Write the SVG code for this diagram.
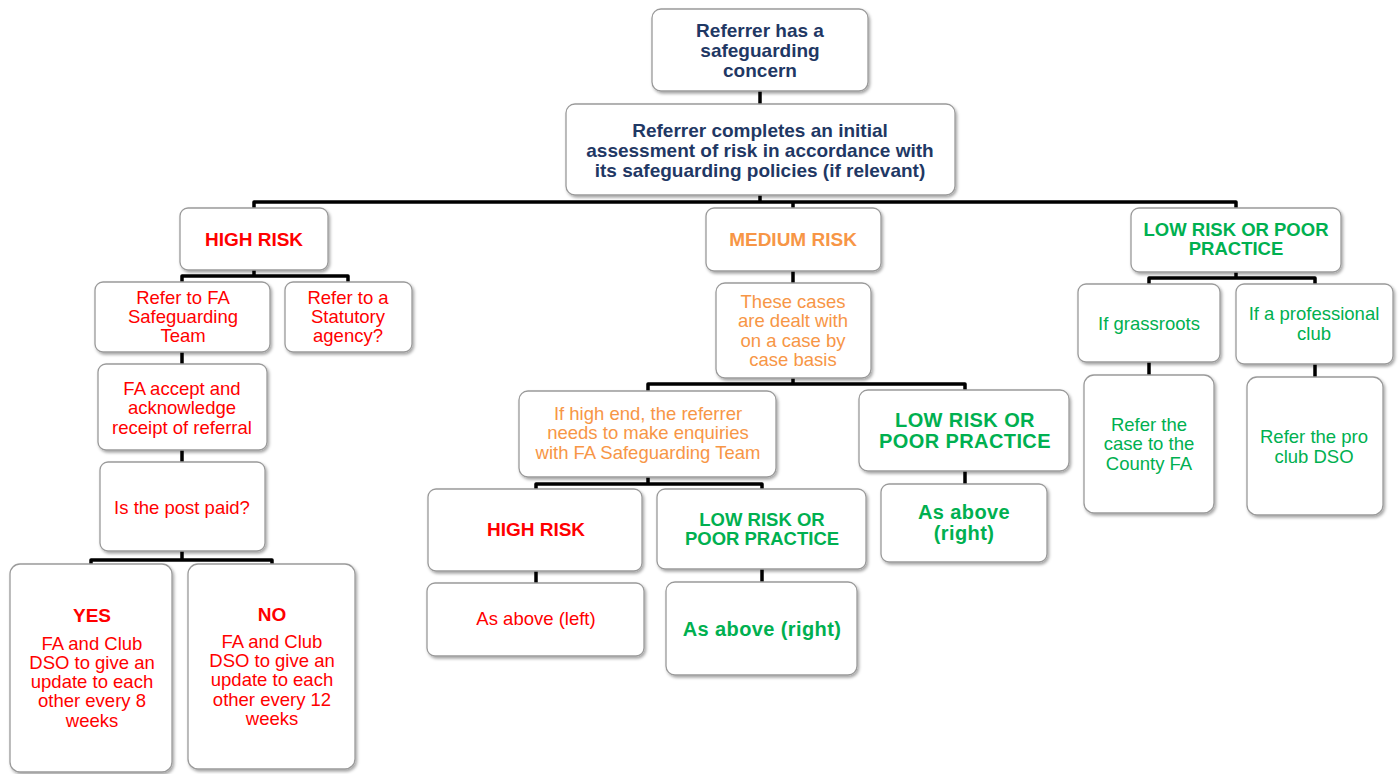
<svg xmlns="http://www.w3.org/2000/svg" width="1399" height="774" viewBox="0 0 1399 774">
<defs>
<filter id="sh" x="-10%" y="-10%" width="125%" height="130%">
<feDropShadow dx="1.5" dy="2" stdDeviation="1.5" flood-color="#000" flood-opacity="0.35"/>
</filter>
<style>
.box{fill:#fff;stroke:#9a9a9a;stroke-width:1.3;filter:url(#sh)}
.con{fill:none;stroke:#000;stroke-width:3.5;stroke-linejoin:round;stroke-linecap:butt}
text{font-family:"Liberation Sans",Arial,sans-serif;text-anchor:middle;font-size:18.5px}
.nv{fill:#1f3864;font-weight:bold;font-size:19px}
.rd{fill:#ff0000}
.rb{fill:#ff0000;font-weight:bold;font-size:19px}
.or{fill:#f79646}
.ob{fill:#f79646;font-weight:bold;font-size:19px}
.gr{fill:#00b050}
.gb{fill:#00b050;font-weight:bold;font-size:18.5px}
.gB{fill:#00b050;font-weight:bold;font-size:20px;letter-spacing:0.4px}
</style>
</defs>
<rect width="1399" height="774" fill="#fff"/>
<g id="connectors">
<path class="con" d="M760,91 V104"/>
<path class="con" d="M760,195 V202"/>
<path class="con" d="M254,208 V202 H1236 V208"/>
<path class="con" d="M793,202 V208"/>
<path class="con" d="M254,270 V276"/>
<path class="con" d="M182,282 V276 H348 V282"/>
<path class="con" d="M182,352 V364"/>
<path class="con" d="M182,450 V462"/>
<path class="con" d="M182,551 V560"/>
<path class="con" d="M91,564 V560 H272 V564"/>
<path class="con" d="M793,271 V283"/>
<path class="con" d="M793,378 V384"/>
<path class="con" d="M648,391 V384 H965 V390"/>
<path class="con" d="M648,477 V484"/>
<path class="con" d="M536,489 V484 H762 V489"/>
<path class="con" d="M965,471 V484"/>
<path class="con" d="M536,571 V583"/>
<path class="con" d="M762,569 V582"/>
<path class="con" d="M1236,272 V278"/>
<path class="con" d="M1149,284 V278 H1315 V284"/>
<path class="con" d="M1149,362 V375"/>
<path class="con" d="M1315,364 V377"/>
</g>
<g id="n1"><rect class="box" x="652" y="9" width="216" height="82" rx="9"/>
<text class="nv" x="760" y="36.5">Referrer has a</text>
<text class="nv" x="760" y="56.5">safeguarding</text>
<text class="nv" x="760" y="76.5">concern</text></g>
<g id="n2"><rect class="box" x="566" y="104" width="389" height="91" rx="9"/>
<text class="nv" x="760" y="136.5">Referrer completes an initial</text>
<text class="nv" x="760" y="156.5">assessment of risk in accordance with</text>
<text class="nv" x="760" y="176.5">its safeguarding policies (if relevant)</text></g>
<g id="n3"><rect class="box" x="180" y="208" width="148" height="62" rx="8"/>
<text class="rb" x="254" y="245.5">HIGH RISK</text></g>
<g id="n4"><rect class="box" x="706" y="208" width="175" height="63" rx="8"/>
<text class="ob" x="793" y="245.5">MEDIUM RISK</text></g>
<g id="n5"><rect class="box" x="1131" y="208" width="210" height="64" rx="8"/>
<text class="gb" x="1236" y="235.5">LOW RISK OR POOR</text>
<text class="gb" x="1236" y="254.5">PRACTICE</text></g>
<g id="n6"><rect class="box" x="95" y="282" width="175" height="70" rx="8"/>
<text class="rd" x="183" y="303.5">Refer to FA</text>
<text class="rd" x="183" y="323">Safeguarding</text>
<text class="rd" x="183" y="342">Team</text></g>
<g id="n7"><rect class="box" x="285" y="282" width="127" height="70" rx="8"/>
<text class="rd" x="348" y="303.5">Refer to a</text>
<text class="rd" x="348" y="323">Statutory</text>
<text class="rd" x="348" y="342">agency?</text></g>
<g id="n8"><rect class="box" x="98" y="364" width="169" height="86" rx="8"/>
<text class="rd" x="182" y="394.5">FA accept and</text>
<text class="rd" x="182" y="414">acknowledge</text>
<text class="rd" x="182" y="433.5">receipt of referral</text></g>
<g id="n9"><rect class="box" x="100" y="462" width="165" height="89" rx="8"/>
<text class="rd" x="182" y="513.5">Is the post paid?</text></g>
<g id="n10"><rect class="box" x="10" y="564" width="162" height="208" rx="10"/>
<text class="rb" x="92" y="621.5">YES</text>
<text class="rd" x="92" y="649.5">FA and Club</text>
<text class="rd" x="92" y="668.5">DSO to give an</text>
<text class="rd" x="92" y="688">update to each</text>
<text class="rd" x="92" y="707">other every 8</text>
<text class="rd" x="92" y="726.5">weeks</text></g>
<g id="n11"><rect class="box" x="188" y="564" width="167" height="205" rx="10"/>
<text class="rb" x="272" y="620.5">NO</text>
<text class="rd" x="272" y="647.5">FA and Club</text>
<text class="rd" x="272" y="667">DSO to give an</text>
<text class="rd" x="272" y="686">update to each</text>
<text class="rd" x="272" y="705.5">other every 12</text>
<text class="rd" x="272" y="724.5">weeks</text></g>
<g id="n12"><rect class="box" x="716" y="283" width="155" height="95" rx="9"/>
<text class="or" x="793" y="307.5">These cases</text>
<text class="or" x="793" y="327">are dealt with</text>
<text class="or" x="793" y="346.5">on a case by</text>
<text class="or" x="793" y="365.5">case basis</text></g>
<g id="n13"><rect class="box" x="519" y="391" width="257" height="86" rx="9"/>
<text class="or" x="648" y="419.5">If high end, the referrer</text>
<text class="or" x="648" y="439">needs to make enquiries</text>
<text class="or" x="648" y="458.5">with FA Safeguarding Team</text></g>
<g id="n14"><rect class="box" x="859" y="390" width="210" height="81" rx="9"/>
<text class="gB" x="965" y="427">LOW RISK OR</text>
<text class="gB" x="965" y="448">POOR PRACTICE</text></g>
<g id="n15"><rect class="box" x="881" y="484" width="166" height="78" rx="8"/>
<text class="gB" x="964" y="519">As above</text>
<text class="gB" x="964" y="540">(right)</text></g>
<g id="n16"><rect class="box" x="428" y="489" width="214" height="82" rx="8"/>
<text class="rb" x="536" y="535.5">HIGH RISK</text></g>
<g id="n17"><rect class="box" x="657" y="489" width="209" height="80" rx="8"/>
<text class="gb" x="762" y="525.5">LOW RISK OR</text>
<text class="gb" x="762" y="545">POOR PRACTICE</text></g>
<g id="n18"><rect class="box" x="427" y="583" width="217" height="73" rx="8"/>
<text class="rd" x="536" y="624.5">As above (left)</text></g>
<g id="n19"><rect class="box" x="666" y="582" width="191" height="93" rx="9"/>
<text class="gB" x="762" y="636">As above (right)</text></g>
<g id="n20"><rect class="box" x="1078" y="284" width="142" height="78" rx="8"/>
<text class="gr" x="1149" y="329.5">If grassroots</text></g>
<g id="n21"><rect class="box" x="1236" y="284" width="157" height="80" rx="8"/>
<text class="gr" x="1314" y="319.5">If a professional</text>
<text class="gr" x="1314" y="339.5">club</text></g>
<g id="n22"><rect class="box" x="1084" y="375" width="130" height="138" rx="10"/>
<text class="gr" x="1149" y="430.5">Refer the</text>
<text class="gr" x="1149" y="450">case to the</text>
<text class="gr" x="1149" y="469.5">County FA</text></g>
<g id="n23"><rect class="box" x="1247" y="377" width="136" height="138" rx="10"/>
<text class="gr" x="1314" y="442.5">Refer the pro</text>
<text class="gr" x="1314" y="462.5">club DSO</text></g>
</svg>
